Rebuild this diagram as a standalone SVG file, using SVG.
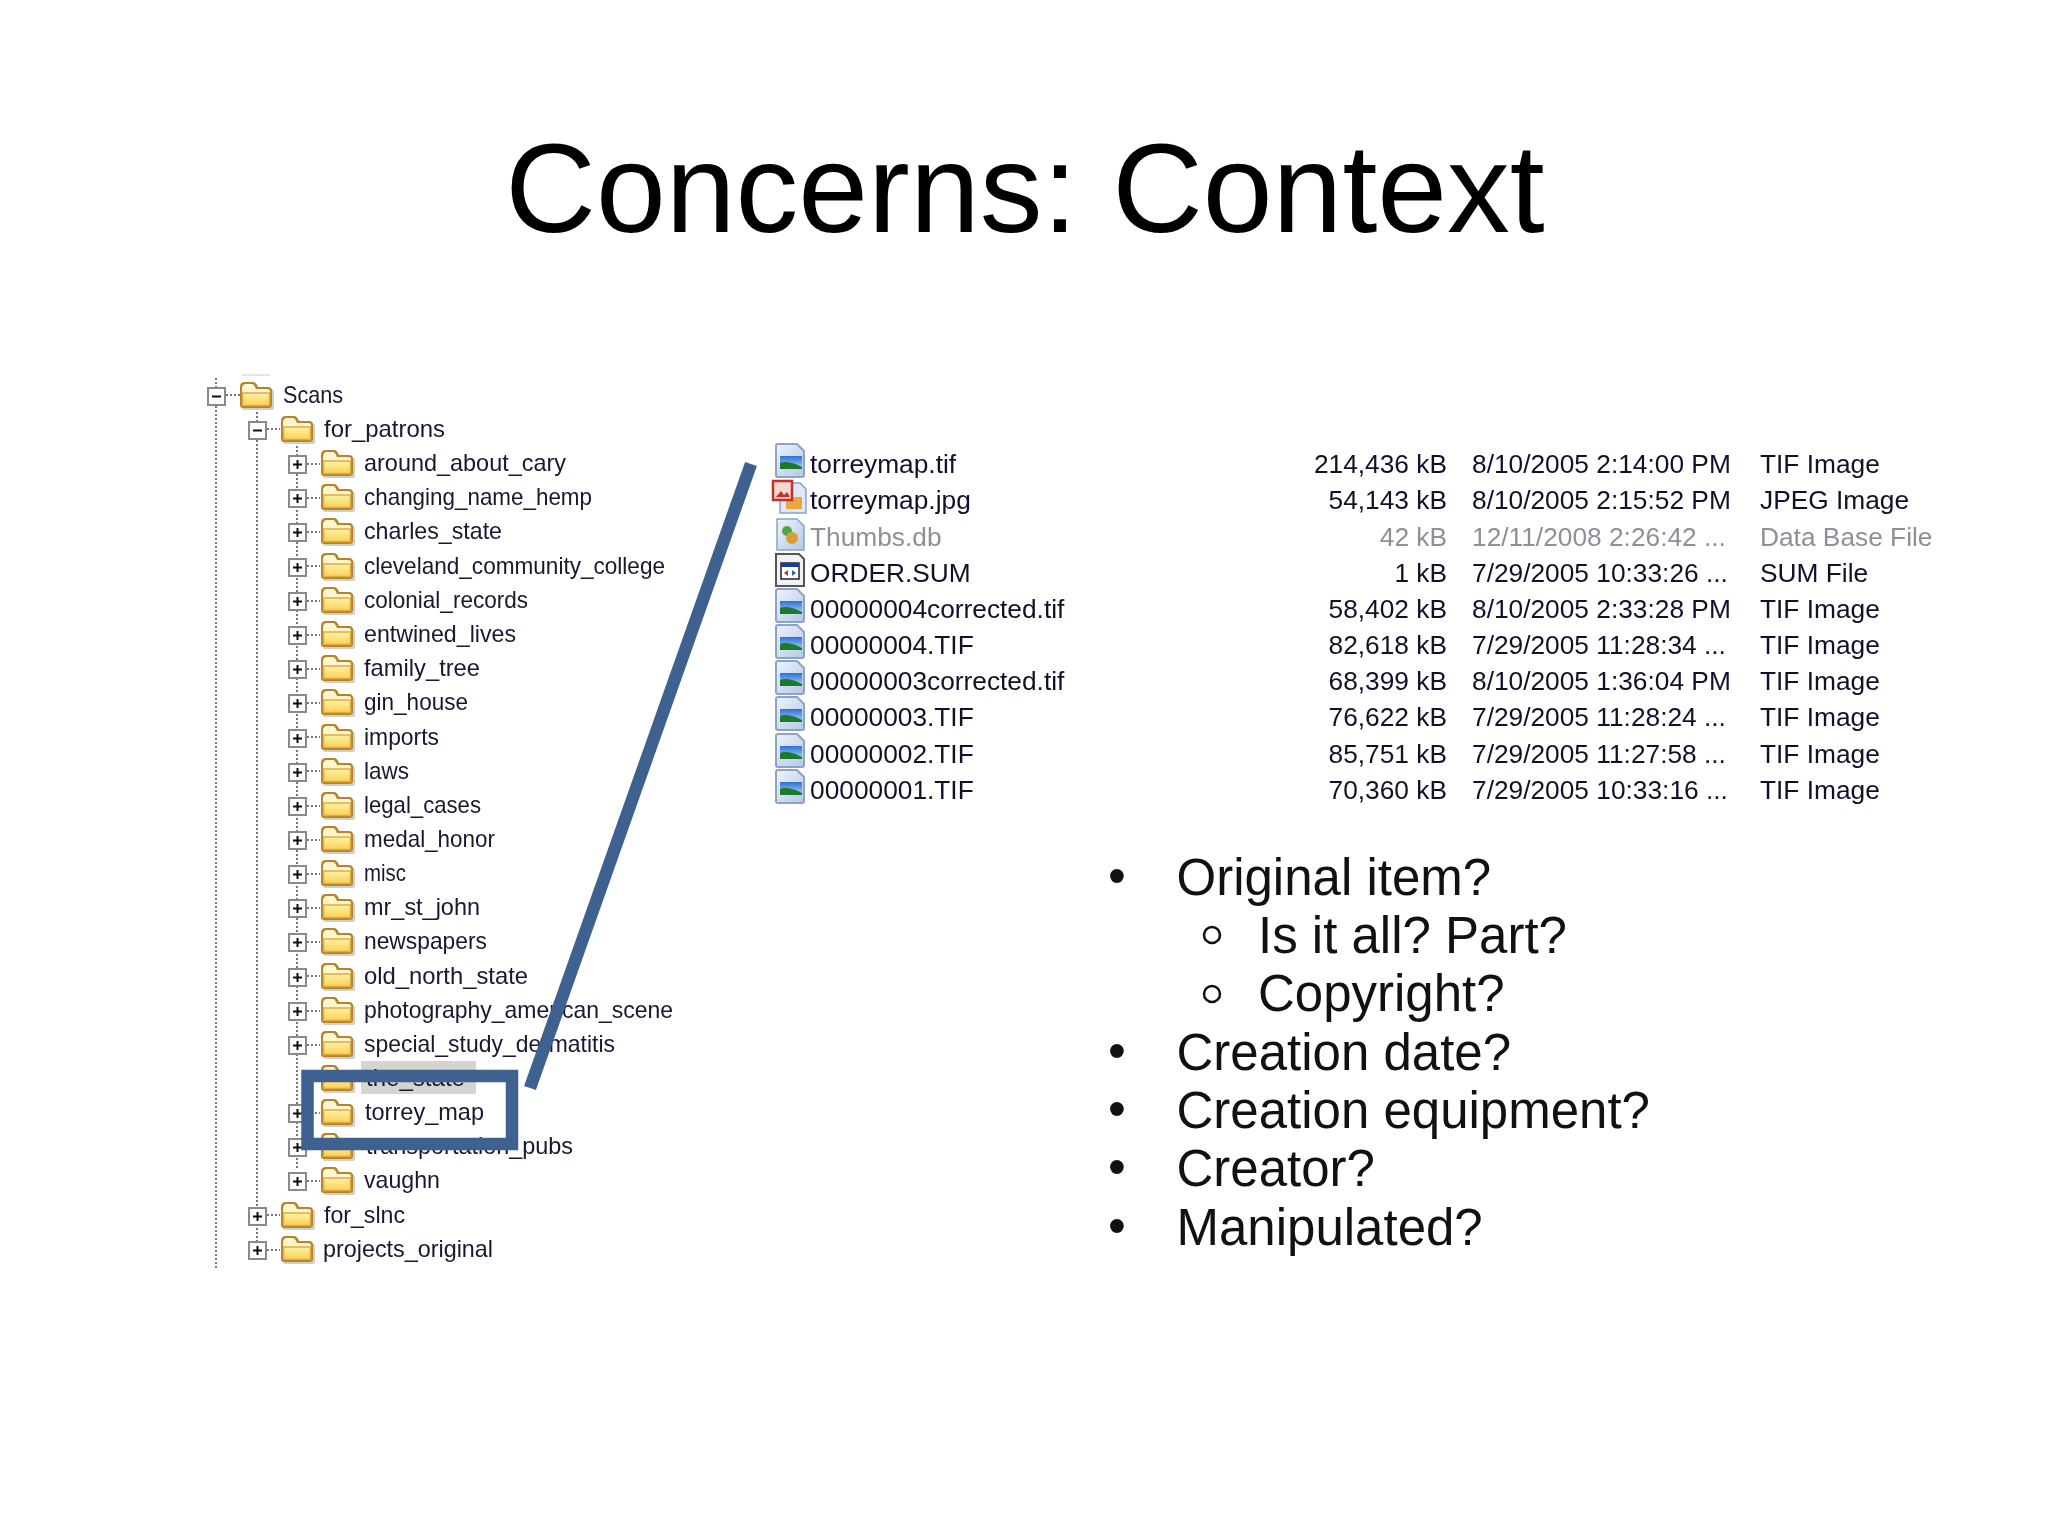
<svg xmlns="http://www.w3.org/2000/svg" width="2048" height="1536" viewBox="0 0 2048 1536">
<style>
text{font-family:"Liberation Sans",Arial,sans-serif}
.t{font-size:24px;fill:#1c1433}
.f{font-size:26.300px;fill:#14102c}
.m{fill:#8f8f98}
.e{text-anchor:end}
.b{font-size:51px;fill:#111}
.d{stroke:#777;stroke-width:2;stroke-dasharray:2 2;fill:none}
.mark{fill:none;stroke:#3f618f}
</style>
<defs>
<filter id="soft" x="-2%" y="-2%" width="104%" height="104%"><feGaussianBlur stdDeviation="0.5"/></filter>
<linearGradient id="fg" x1="0" y1="0" x2="0" y2="1"><stop offset="0" stop-color="#fff2a8"/><stop offset="1" stop-color="#fbd054"/></linearGradient>
<linearGradient id="pg" x1="0" y1="0" x2="1" y2="1"><stop offset="0" stop-color="#eef3fc"/><stop offset="1" stop-color="#b4c8e6"/></linearGradient>
<linearGradient id="sky" x1="0" y1="0" x2="0" y2="1"><stop offset="0" stop-color="#2f6fd8"/><stop offset="1" stop-color="#a8d8f0"/></linearGradient>
<g id="folder">
<path d="M3 -14Q3 -19 8 -19H15Q18 -19 20 -14H31Q35 -14 35 -10V5Q35 7 32 7H5Q3 7 3 5Z" fill="#cfcfcf"/>
<path d="M1 -16Q1 -21 6 -21H14Q17 -21 19 -16H29Q33 -16 33 -12V2Q33 5 29 5H4Q1 5 1 2Z" fill="#b5832a"/>
<path d="M3 -14Q3 -19 7 -19H13Q15 -19 17 -14H28Q31 -14 31 -12V-9H3Z" fill="#fff6d0"/>
<rect x="3.500" y="-10" width="27" height="12.500" fill="url(#fg)" stroke="#e0ac40" stroke-width="1.500"/>
</g>
<g id="box"><rect x="1" y="-15" width="17" height="17" fill="#fff" stroke="#8a8a8a" stroke-width="2"/><path d="M5 -6.500H14" stroke="#111" stroke-width="2"/></g>
<g id="plus"><use href="#box"/><path d="M9.500 -11V-2" stroke="#111" stroke-width="2"/></g>
<g id="tif">
<path d="M0 -27Q0 -29 2 -29H21L28 -22V2Q28 4 26 4H2Q0 4 0 2Z" fill="url(#pg)" stroke="#8ca3c4" stroke-width="2"/>
<rect x="4" y="-17" width="22" height="13" fill="url(#sky)"/>
<path d="M4 -10Q12 -13 26 -6V-4H4Z" fill="#1c7a2a"/>
</g>
</defs>
<rect width="2048" height="1536" fill="#fff"/>
<text id="title" x="1025" y="232" text-anchor="middle" font-size="125.500" fill="#000">Concerns: Context</text>

<g id="tree-lines" filter="url(#soft)">
<path class="d" d="M216 378V1268M257 412V1242M297 446V1170"/>
<path class="d" d="M226 395H240M267 429H280"/>
<path class="d" d="M307 464H320M307 498H320M307 532H320M307 566H320M307 601H320M307 635H320M307 669H320M307 703H320M307 737H320M307 771H320M307 806H320M307 840H320M307 874H320M307 908H320M307 942H320M307 976H320M307 1011H320M307 1045H320M307 1113H320M307 1147H320M307 1181H320M267 1215H280M267 1250H280"/>
<path d="M242 375H270" stroke="#ddd" stroke-width="1.500"/>
</g>
<g id="tree" filter="url(#soft)">
<g id="n0" transform="translate(0,403)"><use href="#box" x="207"/><use href="#folder" x="239"/><text class="t" x="283" textLength="60" lengthAdjust="spacingAndGlyphs">Scans</text></g>
<g id="n1" transform="translate(0,437)"><use href="#box" x="248"/><use href="#folder" x="280"/><text class="t" x="324" textLength="121" lengthAdjust="spacingAndGlyphs">for_patrons</text></g>
<g id="n2" transform="translate(0,471)"><use href="#plus" x="288"/><use href="#folder" x="320"/><text class="t" x="364" textLength="202" lengthAdjust="spacingAndGlyphs">around_about_cary</text></g>
<g id="n3" transform="translate(0,505)"><use href="#plus" x="288"/><use href="#folder" x="320"/><text class="t" x="364" textLength="228" lengthAdjust="spacingAndGlyphs">changing_name_hemp</text></g>
<g id="n4" transform="translate(0,539)"><use href="#plus" x="288"/><use href="#folder" x="320"/><text class="t" x="364" textLength="138" lengthAdjust="spacingAndGlyphs">charles_state</text></g>
<g id="n5" transform="translate(0,574)"><use href="#plus" x="288"/><use href="#folder" x="320"/><text class="t" x="364" textLength="301" lengthAdjust="spacingAndGlyphs">cleveland_community_college</text></g>
<g id="n6" transform="translate(0,608)"><use href="#plus" x="288"/><use href="#folder" x="320"/><text class="t" x="364" textLength="164" lengthAdjust="spacingAndGlyphs">colonial_records</text></g>
<g id="n7" transform="translate(0,642)"><use href="#plus" x="288"/><use href="#folder" x="320"/><text class="t" x="364" textLength="152" lengthAdjust="spacingAndGlyphs">entwined_lives</text></g>
<g id="n8" transform="translate(0,676)"><use href="#plus" x="288"/><use href="#folder" x="320"/><text class="t" x="364" textLength="116" lengthAdjust="spacingAndGlyphs">family_tree</text></g>
<g id="n9" transform="translate(0,710)"><use href="#plus" x="288"/><use href="#folder" x="320"/><text class="t" x="364" textLength="104" lengthAdjust="spacingAndGlyphs">gin_house</text></g>
<g id="n10" transform="translate(0,745)"><use href="#plus" x="288"/><use href="#folder" x="320"/><text class="t" x="364" textLength="75" lengthAdjust="spacingAndGlyphs">imports</text></g>
<g id="n11" transform="translate(0,779)"><use href="#plus" x="288"/><use href="#folder" x="320"/><text class="t" x="364" textLength="45" lengthAdjust="spacingAndGlyphs">laws</text></g>
<g id="n12" transform="translate(0,813)"><use href="#plus" x="288"/><use href="#folder" x="320"/><text class="t" x="364" textLength="117" lengthAdjust="spacingAndGlyphs">legal_cases</text></g>
<g id="n13" transform="translate(0,847)"><use href="#plus" x="288"/><use href="#folder" x="320"/><text class="t" x="364" textLength="131" lengthAdjust="spacingAndGlyphs">medal_honor</text></g>
<g id="n14" transform="translate(0,881)"><use href="#plus" x="288"/><use href="#folder" x="320"/><text class="t" x="364" textLength="42" lengthAdjust="spacingAndGlyphs">misc</text></g>
<g id="n15" transform="translate(0,915)"><use href="#plus" x="288"/><use href="#folder" x="320"/><text class="t" x="364" textLength="116" lengthAdjust="spacingAndGlyphs">mr_st_john</text></g>
<g id="n16" transform="translate(0,949)"><use href="#plus" x="288"/><use href="#folder" x="320"/><text class="t" x="364" textLength="123" lengthAdjust="spacingAndGlyphs">newspapers</text></g>
<g id="n17" transform="translate(0,984)"><use href="#plus" x="288"/><use href="#folder" x="320"/><text class="t" x="364" textLength="164" lengthAdjust="spacingAndGlyphs">old_north_state</text></g>
<g id="n18" transform="translate(0,1018)"><use href="#plus" x="288"/><use href="#folder" x="320"/><text class="t" x="364" textLength="309" lengthAdjust="spacingAndGlyphs">photography_american_scene</text></g>
<g id="n19" transform="translate(0,1052)"><use href="#plus" x="288"/><use href="#folder" x="320"/><text class="t" x="364" textLength="251" lengthAdjust="spacingAndGlyphs">special_study_dermatitis</text></g>
<rect x="361" y="1061" width="115" height="33" fill="#d6d4ce"/>
<g id="n20" transform="translate(0,1086)"><use href="#folder" x="320"/><text class="t" x="366" textLength="99" lengthAdjust="spacingAndGlyphs">the_state</text></g>
<g id="n21" transform="translate(0,1120)"><use href="#plus" x="288"/><use href="#folder" x="320"/><text class="t" x="365" textLength="119" lengthAdjust="spacingAndGlyphs">torrey_map</text></g>
<g id="n22" transform="translate(0,1154)"><use href="#plus" x="288"/><use href="#folder" x="320"/><text class="t" x="366" textLength="207" lengthAdjust="spacingAndGlyphs">transportation_pubs</text></g>
<g id="n23" transform="translate(0,1188)"><use href="#plus" x="288"/><use href="#folder" x="320"/><text class="t" x="364" textLength="76" lengthAdjust="spacingAndGlyphs">vaughn</text></g>
<g id="n24" transform="translate(0,1223)"><use href="#plus" x="248"/><use href="#folder" x="280"/><text class="t" x="324" textLength="81" lengthAdjust="spacingAndGlyphs">for_slnc</text></g>
<g id="n25" transform="translate(0,1257)"><use href="#plus" x="248"/><use href="#folder" x="280"/><text class="t" x="323" textLength="170" lengthAdjust="spacingAndGlyphs">projects_original</text></g>
</g>

<g id="files" filter="url(#soft)">
<g id="file1" transform="translate(0,473)"><use href="#tif" x="776"/><text class="f" x="810">torreymap.tif</text></g>
<g id="file2" transform="translate(0,509)"><path d="M780 -26H800L806 -20V4H780Z" fill="#dfe8f6" stroke="#8ca3c4" stroke-width="1.500"/><rect x="786" y="-12" width="16" height="12" fill="#e9a840"/><rect x="773" y="-28" width="19" height="19" fill="#f8d8d0" stroke="#c0302a" stroke-width="2.500"/><path d="M776 -12L781 -18L784 -14L787 -17L790 -12Z" fill="#c0302a"/><text class="f" x="810">torreymap.jpg</text></g>
<g id="file3" transform="translate(0,546)"><path d="M777 -27H797L804 -20V4H777Z" fill="url(#pg)" stroke="#8ca3c4" stroke-width="1.500"/><circle cx="787" cy="-15" r="5" fill="#4aa84a"/><circle cx="792" cy="-8" r="6" fill="#d8a030"/><text class="f m" x="810">Thumbs.db</text></g>
<g id="file4" transform="translate(0,582)"><path d="M776 -28H799L804 -23V4H776Z" fill="#f2f2f0" stroke="#555" stroke-width="2"/><rect x="781" y="-19" width="18" height="16" fill="#fff" stroke="#223" stroke-width="1.500"/><rect x="781" y="-19" width="18" height="4" fill="#1a3a9a"/><path d="M784 -9L788 -12V-6Z" fill="#c03020"/><path d="M796 -9L792 -12V-6Z" fill="#2060c0"/><text class="f" x="810">ORDER.SUM</text></g>
<g id="file5" transform="translate(0,618)"><use href="#tif" x="776"/><text class="f" x="810">00000004corrected.tif</text></g>
<g id="file6" transform="translate(0,654)"><use href="#tif" x="776"/><text class="f" x="810">00000004.TIF</text></g>
<g id="file7" transform="translate(0,690)"><use href="#tif" x="776"/><text class="f" x="810">00000003corrected.tif</text></g>
<g id="file8" transform="translate(0,726)"><use href="#tif" x="776"/><text class="f" x="810">00000003.TIF</text></g>
<g id="file9" transform="translate(0,763)"><use href="#tif" x="776"/><text class="f" x="810">00000002.TIF</text></g>
<g id="file10" transform="translate(0,799)"><use href="#tif" x="776"/><text class="f" x="810">00000001.TIF</text></g>
</g>

<g id="details" filter="url(#soft)">
<g transform="translate(0,473)"><text class="f e" x="1447">214,436 kB</text><text class="f" x="1472">8/10/2005 2:14:00 PM</text><text class="f" x="1760">TIF Image</text></g>
<g transform="translate(0,509)"><text class="f e" x="1447">54,143 kB</text><text class="f" x="1472">8/10/2005 2:15:52 PM</text><text class="f" x="1760">JPEG Image</text></g>
<g transform="translate(0,546)"><text class="f m e" x="1447">42 kB</text><text class="f m" x="1472">12/11/2008 2:26:42 ...</text><text class="f m" x="1760">Data Base File</text></g>
<g transform="translate(0,582)"><text class="f e" x="1447">1 kB</text><text class="f" x="1472">7/29/2005 10:33:26 ...</text><text class="f" x="1760">SUM File</text></g>
<g transform="translate(0,618)"><text class="f e" x="1447">58,402 kB</text><text class="f" x="1472">8/10/2005 2:33:28 PM</text><text class="f" x="1760">TIF Image</text></g>
<g transform="translate(0,654)"><text class="f e" x="1447">82,618 kB</text><text class="f" x="1472">7/29/2005 11:28:34 ...</text><text class="f" x="1760">TIF Image</text></g>
<g transform="translate(0,690)"><text class="f e" x="1447">68,399 kB</text><text class="f" x="1472">8/10/2005 1:36:04 PM</text><text class="f" x="1760">TIF Image</text></g>
<g transform="translate(0,726)"><text class="f e" x="1447">76,622 kB</text><text class="f" x="1472">7/29/2005 11:28:24 ...</text><text class="f" x="1760">TIF Image</text></g>
<g transform="translate(0,763)"><text class="f e" x="1447">85,751 kB</text><text class="f" x="1472">7/29/2005 11:27:58 ...</text><text class="f" x="1760">TIF Image</text></g>
<g transform="translate(0,799)"><text class="f e" x="1447">70,360 kB</text><text class="f" x="1472">7/29/2005 10:33:16 ...</text><text class="f" x="1760">TIF Image</text></g>
</g>

<g id="connectors">
<rect class="mark" x="307.500" y="1076" width="204.500" height="68" stroke-width="12.500"/>
<path class="mark" d="M530 1088L751 464" stroke-width="12.500"/>
</g>

<g id="bullets">
<text class="b" x="1108" y="893">•</text><text class="b" x="1176.500" y="895">Original item?</text>
<circle cx="1212" cy="935" r="8" fill="none" stroke="#111" stroke-width="2.500"/><text class="b" x="1258" y="953">Is it all? Part?</text>
<circle cx="1212" cy="994" r="8" fill="none" stroke="#111" stroke-width="2.500"/><text class="b" x="1258" y="1011">Copyright?</text>
<text class="b" x="1108" y="1068">•</text><text class="b" x="1176.500" y="1070">Creation date?</text>
<text class="b" x="1108" y="1126">•</text><text class="b" x="1176.500" y="1128">Creation equipment?</text>
<text class="b" x="1108" y="1184">•</text><text class="b" x="1176.500" y="1186">Creator?</text>
<text class="b" x="1108" y="1243">•</text><text class="b" x="1176.500" y="1245">Manipulated?</text>
</g>
</svg>
